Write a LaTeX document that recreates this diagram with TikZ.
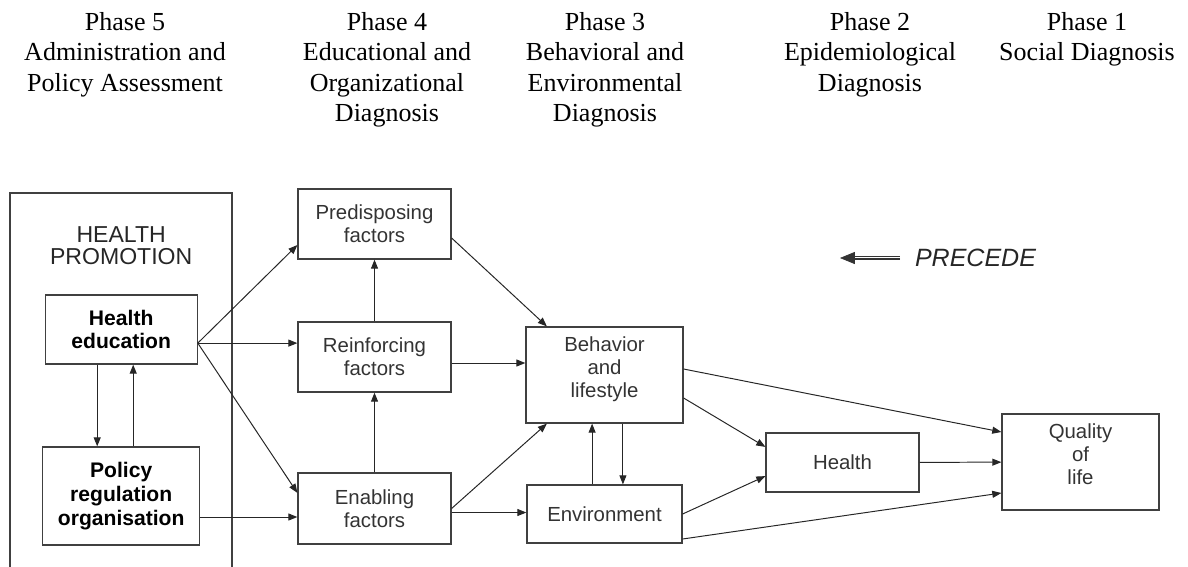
\documentclass[tikz,border=0pt]{standalone}
\usepackage{fontspec}
\setmainfont{Liberation Serif}
\setsansfont{Liberation Sans}
\usetikzlibrary{arrows.meta}

\begin{document}
\begin{tikzpicture}[
  >={Triangle[length=6.5pt,width=5pt]},
  arr/.style={->, line width=0.7pt, draw=black!85},
  phase/.style={anchor=north, inner sep=0pt, align=center,
                font=\fontsize{18.5}{21.7}\selectfont},
  box/.style={draw=black!75, line width=0.85pt,
              minimum width=3.825cm, minimum height=1.75cm,
              align=center, text=black!80,
              font=\sffamily\fontsize{14.5}{16.4}\selectfont},
  boxtxt/.style={align=center, text=black!80,
                 font=\sffamily\fontsize{14.5}{16.4}\selectfont},
  hpbox/.style={box, text=black,
                font=\sffamily\bfseries\fontsize{15}{17}\selectfont},
]
\useasboundingbox (0,0) rectangle (29.7,-14.175);

% phase headings (right to left)
\node[phase] (ph5) at ( 3.125,-0.3) {Phase 5\\Administration and\\Policy Assessment};
\node[phase] (ph4) at ( 9.675,-0.3) {Phase 4\\Educational and\\Organizational\\Diagnosis};
\node[phase] (ph3) at (15.125,-0.3) {Phase 3\\Behavioral and\\Environmental\\Diagnosis};
\node[phase] (ph2) at (21.75, -0.3) {Phase 2\\Epidemiological\\Diagnosis};
\node[phase] (ph1) at (27.175,-0.3) {Phase 1\\Social Diagnosis};

% health promotion frame (open at the bottom)
\draw[draw=black!75, line width=0.85pt]
  (0.25,-14.175) -- (0.25,-4.825) -- (5.8,-4.825) -- (5.8,-14.175);
\node[font=\sffamily\fontsize{16.4}{15.8}\selectfont, align=center, text=black!85]
  (hp) at (3.03,-6.15) {HEALTH\\PROMOTION};
\node[hpbox, minimum width=3.8cm, minimum height=1.725cm] (he) at (3.03,-8.2375) {Health\\education};
\node[hpbox, minimum width=3.925cm, minimum height=2.45cm] (pro) at (3.03,-12.4) {Policy\\regulation\\organisation};

% phase 4 factors
\node[box] (pre) at (9.3625,-5.6) {Predisposing\\factors};
\node[box] (rei) at (9.3625,-8.925) {Reinforcing\\factors};
\node[box, minimum height=1.775cm] (ena) at (9.3625,-12.7125) {Enabling\\factors};

% phase 3 / 2 / 1
\node[box, minimum width=3.925cm, minimum height=2.4cm,
      label={[boxtxt, name=beh-t, yshift=0.15cm]center:Behavior\\and\\lifestyle}]
  (beh) at (15.1125,-9.375) {};
\node[box, minimum width=3.875cm, minimum height=1.45cm] (env) at (15.1125,-12.85) {Environment};
\node[box, minimum height=1.475cm] (hea) at (21.0625,-11.5625) {Health};
\node[box, minimum width=3.925cm, minimum height=2.4cm,
      label={[boxtxt, name=qol-t, yshift=0.2cm]center:Quality\\of\\life}]
  (qol) at (27.0125,-11.55) {};

% PRECEDE direction
\node[anchor=west, inner sep=0pt, outer xsep=0.375cm, text=black!85,
      font=\sffamily\itshape\fontsize{17.8}{20}\selectfont] (prec) at (22.5,-6.45) {PRECEDE};
\coordinate (prec-tip) at (21,-6.45);
\draw[line width=0.5pt, draw=black!80, double distance=1.4pt, shorten >=8pt] (prec.west) -- (prec-tip);
\draw[line width=0.5pt, draw=black!80, -{Triangle[length=10.5pt,width=8.5pt]}] (prec.west) -- (prec-tip);

% --- arrows from health promotion ---
\coordinate (he-out) at ([yshift=-0.34cm]he.east);
\coordinate (pro-out) at ([yshift=-0.525cm]pro.east);
\draw[arr] (he-out) -- ([yshift=-0.525cm]pre.west);
\draw[arr] (he-out) -- (he-out -| rei.west);
\draw[arr] (he-out) -- ([yshift=0.39cm]ena.west);
\draw[arr] (pro-out) -- (pro-out -| ena.west);
\draw[arr] ([xshift=-0.6cm]he.south) -- ([xshift=-0.6cm]pro.north);
\draw[arr] ([xshift=0.3cm]pro.north) -- ([xshift=0.3cm]he.south);

% --- factors ---
\draw[arr] (rei) -- (pre);
\draw[arr] (ena) -- (rei);
\coordinate (rei-out) at ([yshift=-0.15cm]rei.east);
\coordinate (ena-out) at ([yshift=-0.1cm]ena.east);
\draw[arr] ([yshift=-0.35cm]pre.east) -- ([xshift=-1.44cm]beh.north);
\draw[arr] (rei-out) -- (rei-out -| beh.west);
\draw[arr] (ena.east) -- ([xshift=-1.44cm]beh.south);
\draw[arr] (ena-out) -- (ena-out -| env.west);

% --- behaviour, environment, health ---
\draw[arr] ([xshift=-0.31cm]env.north) -- ([xshift=-0.31cm]beh.south);
\draw[arr] ([xshift=0.46cm]beh.south) -- ([xshift=0.46cm]env.north);
\draw[arr] ([yshift=0.15cm]beh.east) -- ([yshift=0.75cm]qol.west);
\draw[arr] ([yshift=-0.575cm]beh.east) -- ([yshift=0.39cm]hea.west);
\draw[arr] (env.east) -- ([yshift=-0.34cm]hea.west);
\draw[arr] ([yshift=-0.625cm]env.east) -- ([yshift=-0.775cm]qol.west);
\draw[arr] (hea) -- (qol);
\end{tikzpicture}
\end{document}
